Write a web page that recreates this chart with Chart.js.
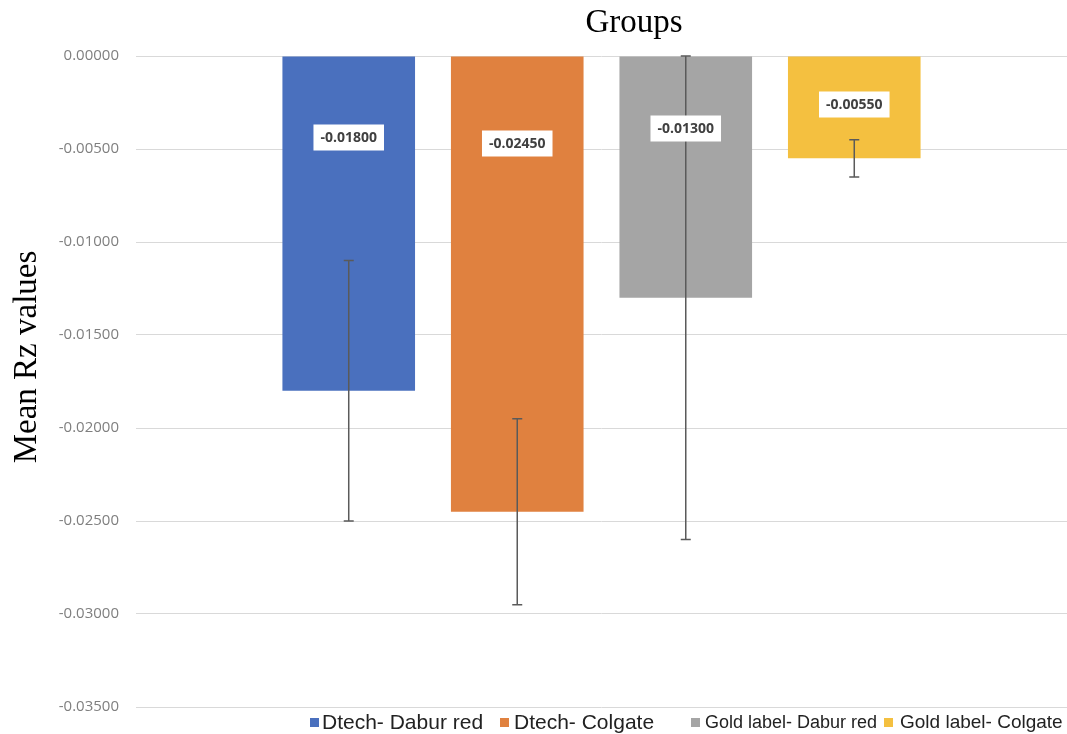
<!DOCTYPE html>
<html>
<head>
<meta charset="utf-8">
<script src="https://cdn.jsdelivr.net/npm/chart.js@4.4.1/dist/chart.umd.min.js"></script>
<style>
    html, body { margin: 0; padding: 0; background: #fff; }
    #wrap { width: 1067px; height: 734px; }
</style>
</head>
<body>
<div id="wrap"><canvas id="myChart"></canvas></div>
<script>
// Datos
const series = ['Dtech- Dabur red', 'Dtech- Colgate', 'Gold label- Dabur red', 'Gold label- Colgate'];
const meanValues = [-0.018, -0.0245, -0.013, -0.0055];
const errLow = [-0.025, -0.0295, -0.026, -0.0065];
const errHigh = [-0.011, -0.0195, 0.0, -0.0045];
const yTicks = [0, -0.005, -0.01, -0.015, -0.02, -0.025, -0.03, -0.035];
const colors = ['#4A70BE', '#E0813F', '#A5A5A5', '#F4C040'];

// Barras de error y etiquetas de valor
const errorBars = {
    id: 'errorBars',
    afterDatasetsDraw(chart, args, opts) {
        const ctx = chart.ctx;
        const y = chart.scales.y;
        chart.data.datasets.forEach((ds, i) => {
            const bar = chart.getDatasetMeta(i).data[0];
            const yLo = y.getPixelForValue(errLow[i]);
            const yHi = y.getPixelForValue(errHigh[i]);
            ctx.save();
            ctx.strokeStyle = '#5a5a5a';
            ctx.lineWidth = 1.5;
            ctx.beginPath();
            ctx.moveTo(bar.x, yLo); ctx.lineTo(bar.x, yHi);
            ctx.moveTo(bar.x - 5, yLo); ctx.lineTo(bar.x + 5, yLo);
            ctx.moveTo(bar.x - 5, yHi); ctx.lineTo(bar.x + 5, yHi);
            ctx.stroke();

            // etiqueta
            const text = meanValues[i].toFixed(5);
            const ly = bar.base + opts.labelOffsets[i];
            ctx.font = 'bold 14px "Open Sans"';
            const w = ctx.measureText(text).width + 14;
            const h = 26;
            ctx.fillStyle = '#ffffff';
            ctx.fillRect(bar.x - w / 2, ly - h / 2, w, h);
            ctx.fillStyle = '#404040';
            ctx.textAlign = 'center';
            ctx.textBaseline = 'middle';
            ctx.fillText(text, bar.x, ly + 1);
            ctx.restore();
        });
    }
};

// Títulos y leyenda dibujados a mano
const extras = {
    id: 'extras',
    afterDraw(chart, args, opts) {
        const ctx = chart.ctx;
        ctx.save();
        ctx.fillStyle = '#000';
        ctx.font = '33px "Liberation Serif"';
        ctx.textAlign = 'center';
        ctx.textBaseline = 'middle';
        ctx.fillText('Groups', 634, 23);

        // título del eje Y
        ctx.save();
        ctx.translate(27, 357);
        ctx.rotate(-Math.PI / 2);
        ctx.fillText('Mean Rz values', 0, 0);
        ctx.restore();

        ctx.textAlign = 'left';
        series.forEach((name, i) => {
            ctx.fillStyle = colors[i];
            ctx.fillRect(opts.markerX[i], 718, 9, 9);
            ctx.fillStyle = '#222';
            ctx.font = opts.fontSizes[i] + 'px "Liberation Sans"';
            ctx.fillText(name, opts.textX[i], 723);
        });
        ctx.restore();
    }
};

const ctx = document.getElementById('myChart').getContext('2d');
const myChart = new Chart(ctx, {
    type: 'bar',
    data: {
        labels: ['Groups'],
        datasets: series.map((name, i) => ({
            label: name,
            data: [meanValues[i]],
            backgroundColor: colors[i],
            borderWidth: 0,
            categoryPercentage: 0.724,
            barPercentage: 0.787
        }))
    },
    options: {
        responsive: true,
        maintainAspectRatio: false,
        animation: false,
        layout: { padding: { top: 56, bottom: 27, left: 0, right: 0 } },
        plugins: {
            legend: { display: false },
            title: { display: false },
            tooltip: { enabled: true },
            errorBars: { labelOffsets: [81, 87, 72, 48] },
            extras: {
                markerX: [310, 500, 691, 884],
                textX: [322, 514, 705, 900],
                fontSizes: [21, 21, 18, 19]
            }
        },
        scales: {
            x: { display: false },
            y: {
                min: -0.035,
                max: 0,
                afterFit: scale => { scale.width = 136; },
                afterBuildTicks: scale => { scale.ticks = yTicks.map(v => ({ value: v })); },
                ticks: {
                    padding: 17,
                    color: '#7f7f7f',
                    font: { family: 'Open Sans', size: 15 },
                    callback: v => Number(v).toFixed(5)
                },
                grid: { color: '#d9d9d9', drawTicks: false },
                border: { display: false },
                title: { display: false }
            }
        }
    },
    plugins: [errorBars, extras]
});
</script>
</body>
</html>
